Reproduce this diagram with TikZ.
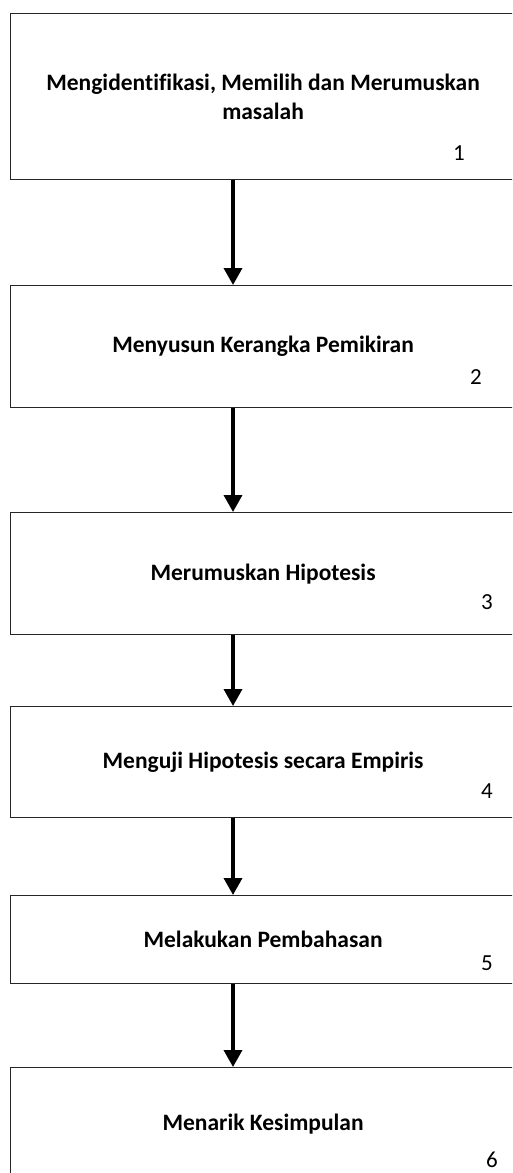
\documentclass[tikz,border=0pt]{standalone}
\usepackage{fontspec}
\setmainfont{Carlito}[Ligatures=NoCommon]
\usetikzlibrary{arrows.meta,positioning}
\tikzset{
    basic/.style = {draw=black!85, line width=1.2pt, rectangle, inner sep=0pt},
    stage/.style = {basic, anchor=north west, minimum width=505pt, align=center,
                    font=\fontsize{23.5}{29}\selectfont\bfseries},
    num/.style   = {inner sep=0pt, font=\fontsize{23}{26}\selectfont},
    flow/.style  = {-{Triangle[length=17pt,width=18pt]}, line width=3.5pt}
}

\begin{document}
\begin{tikzpicture}[x=1pt,y=-1pt]
    \useasboundingbox (0,0) rectangle (512,1173);
    \clip (0,0) rectangle (512,1173);
    % the six stages
    \node[stage, minimum height=166pt] (b1) at (10,13) {Mengidentifikasi, Memilih dan Merumuskan\\masalah};
    \node[stage, minimum height=122pt] (b2) at (10,285) {Menyusun Kerangka Pemikiran};
    \node[stage, minimum height=122pt] (b3) at (10,512) {Merumuskan Hipotesis};
    \node[stage, minimum height=111pt] (b4) at (10,706) {Menguji Hipotesis secara Empiris};
    \node[stage, minimum height=88pt]  (b5) at (10,895) {Melakukan Pembahasan};
    \node[stage, minimum height=112pt] (b6) at (10,1067) {Menarik Kesimpulan};
    % numbers
    \node[num] (n1) at (459,153) {1};
    \node[num] (n2) at (476,377) {2};
    \node[num] (n3) at (487,602) {3};
    \node[num] (n4) at (487,791) {4};
    \node[num] (n5) at (487,963) {5};
    \node[num] (n6) at (492,1160) {6};
    % arrows
    \coordinate (ax) at (233,0);
    \foreach \a/\b in {b1/b2,b2/b3,b3/b4,b4/b5,b5/b6}
        \draw[flow] (\a.south -| ax) -- (\b.north -| ax);
\end{tikzpicture}
\end{document}
